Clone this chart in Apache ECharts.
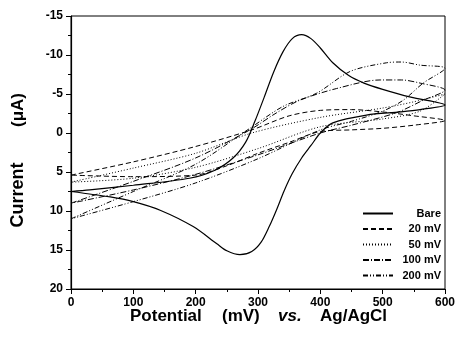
<!DOCTYPE html>
<html>
<head>
<meta charset="utf-8">
<script src="https://cdn.jsdelivr.net/npm/echarts@6/dist/echarts.min.js"></script>
<style>
html,body{margin:0;padding:0;background:#fff;}
#chart{width:459px;height:345px;}
</style>
</head>
<body>
<div id="chart"></div>
<script>
// ---- data (potential in mV, current in µA), each curve is a closed CV loop ----
const seriesNames = ['Bare', '20 mV', '50 mV', '100 mV', '200 mV'];

const bareX = [0, 30, 100, 190, 230, 260, 280, 295, 310, 325, 340, 355, 370, 385, 400, 420, 445, 470, 500, 545, 600,
               560, 528, 474, 420, 400, 385, 370, 355, 342, 330, 318, 305, 290, 271, 250, 234, 196, 143, 100, 63, 0];
const bareY = [7.5, 7.3, 6.7, 5.8, 4.8, 3.2, 1.2, -1.5, -4.6, -7.8, -10.4, -12.1, -12.6, -12.1, -10.9, -9.0, -7.4, -6.4, -5.6, -4.6, -3.6,
               -3.0, -2.7, -2.3, -1.3, 0.0, 1.6, 3.2, 5.2, 7.4, 9.8, 12.0, 14.0, 15.2, 15.6, 15.1, 14.2, 12.0, 9.9, 8.8, 8.2, 7.5];

const x20 = [0, 100, 199, 290, 350, 400, 450, 500, 550, 600, 550, 500, 450, 400, 350, 300, 250, 200, 100, 0];
const y20 = [5.4, 3.7, 1.75, -0.4, -2.2, -2.9, -3.0, -2.7, -2.2, -1.6, -1.0, -0.6, -0.4, -0.2, 1.2, 2.6, 4.2, 5.4, 5.6, 5.4];

const x50 = [0, 100, 200, 290, 400, 500, 550, 600, 560, 500, 400, 300, 200, 100, 0];
const y50 = [6.3, 4.5, 2.6, 0.0, -2.0, -3.2, -4.0, -5.0, -2.8, -1.8, -0.8, 2.0, 4.4, 5.8, 6.3];

const x100 = [0, 100, 200, 287, 330, 367, 426, 496, 530, 560, 600, 565, 522, 450, 400, 300, 200, 100, 0];
const y100 = [9.0, 6.2, 3.2, -0.4, -2.6, -4.2, -5.7, -6.8, -6.8, -6.4, -5.5, -4.2, -2.6, -1.0, 0.0, 2.8, 5.3, 7.3, 9.0];

const x200 = [0, 100, 200, 287, 340, 394, 448, 506, 530, 560, 600, 565, 533, 500, 450, 400, 300, 200, 100, 0];
const y200 = [11.0, 7.5, 4.0, -0.6, -3.4, -5.1, -7.9, -9.0, -9.1, -8.7, -8.3, -6.4, -4.2, -2.8, -1.5, -0.4, 3.3, 6.4, 8.8, 11.0];

const xTicks = [0, 100, 200, 300, 400, 500, 600];
const yTicks = [-15, -10, -5, 0, 5, 10, 15, 20];

// ---- chart ----
const FONT = '"Liberation Sans", Arial, Helvetica, sans-serif';
const pairs = (xs, ys) => xs.map((x, i) => [x, ys[i]]);
const dashes = ['solid', [5, 3], [1, 2], [6, 2, 1, 2], [5, 2, 1, 2, 1, 2]];
const curves = [pairs(bareX, bareY), pairs(x20, y20), pairs(x50, y50), pairs(x100, y100), pairs(x200, y200)];

const chart = echarts.init(document.getElementById('chart'), null, {renderer: 'canvas'});
chart.setOption({
  animation: false,
  backgroundColor: '#fff',
  grid: {left: 71, right: 14, top: 16, bottom: 56, show: true, borderColor: '#000', borderWidth: 1},
  xAxis: {
    type: 'value', min: xTicks[0], max: xTicks[xTicks.length - 1], interval: 100,
    axisLine: {onZero: false, lineStyle: {color: '#000', width: 1.2}},
    axisTick: {show: true, length: 5, lineStyle: {color: '#000', width: 1}},
    minorTick: {show: true, splitNumber: 2, length: 3, lineStyle: {color: '#000', width: 1}},
    splitLine: {show: false},
    axisLabel: {color: '#000', fontFamily: FONT, fontWeight: 'bold', fontSize: 12, margin: 8}
  },
  yAxis: {
    type: 'value', inverse: true, min: yTicks[0], max: yTicks[yTicks.length - 1], interval: 5,
    axisLine: {show: true, onZero: false, lineStyle: {color: '#000', width: 1.2}},
    axisTick: {show: true, length: 5, lineStyle: {color: '#000', width: 1}},
    minorTick: {show: true, splitNumber: 2, length: 3, lineStyle: {color: '#000', width: 1}},
    splitLine: {show: false},
    axisLabel: {color: '#000', fontFamily: FONT, fontWeight: 'bold', fontSize: 12, margin: 8}
  },
  legend: {
    orient: 'vertical', left: 357, top: 203,
    itemWidth: 30, itemHeight: 12, itemGap: 4.5,
    data: seriesNames,
    itemStyle: {opacity: 0},
    formatter: n => '{a|' + n + '}',
    textStyle: {
      color: '#000', fontFamily: FONT, fontWeight: 'bold', fontSize: 11,
      rich: {a: {width: 43, align: 'right', fontFamily: FONT, fontWeight: 'bold', fontSize: 11, color: '#000', lineHeight: 12}}
    }
  },
  series: seriesNames.map((name, i) => ({
    name: name, type: 'line', symbol: 'none', smooth: 0.3,
    data: curves[i],
    lineStyle: {color: '#000', width: i === 0 ? 1.2 : 1, type: dashes[i]},
    itemStyle: {color: '#000'}
  })),
  graphic: [
    {type: 'text', x: 18, y: 195, rotation: Math.PI / 2,
     style: {text: 'Current', fill: '#000', font: 'bold 18px ' + FONT, textAlign: 'center', textVerticalAlign: 'middle'}},
    {type: 'text', x: 18, y: 110, rotation: Math.PI / 2,
     style: {text: '(\u03bcA)', fill: '#000', font: 'bold 17px ' + FONT, textAlign: 'center', textVerticalAlign: 'middle'}},
    {type: 'text', x: 130, y: 316,
     style: {text: 'Potential', fill: '#000', font: 'bold 17px ' + FONT, textAlign: 'left', textVerticalAlign: 'middle'}},
    {type: 'text', x: 222, y: 316,
     style: {text: '(mV)', fill: '#000', font: 'bold 17px ' + FONT, textAlign: 'left', textVerticalAlign: 'middle'}},
    {type: 'text', x: 278, y: 316,
     style: {text: 'vs.', fill: '#000', font: 'italic bold 17px ' + FONT, textAlign: 'left', textVerticalAlign: 'middle'}},
    {type: 'text', x: 320, y: 316,
     style: {text: 'Ag/AgCl', fill: '#000', font: 'bold 17px ' + FONT, textAlign: 'left', textVerticalAlign: 'middle'}}
  ]
});
</script>
</body>
</html>
